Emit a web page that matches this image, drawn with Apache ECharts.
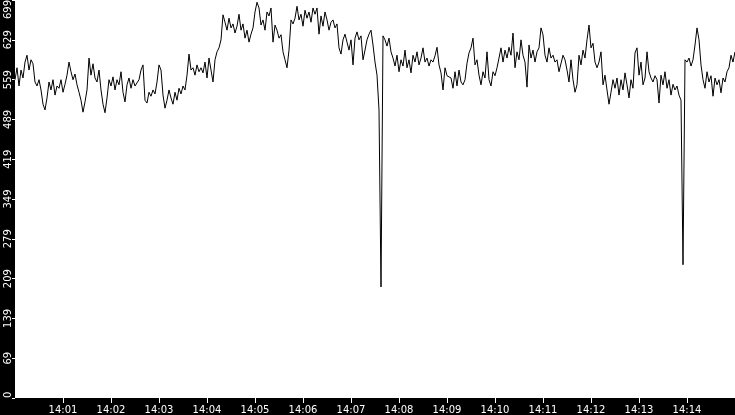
<!DOCTYPE html>
<html>
<head>
<meta charset="utf-8">
<script src="https://cdn.jsdelivr.net/npm/echarts@6/dist/echarts.min.js"></script>
<style>
html,body{margin:0;padding:0;background:#000;}
#chart{width:735px;height:415px;}
</style>
</head>
<body>
<div id="chart"></div>
<script>
// Time labels for x-axis ticks (one per minute, 14:00 .. 14:15)
const timeTickLabels = ['14:00','14:01','14:02','14:03','14:04','14:05','14:06','14:07','14:08','14:09','14:10','14:11','14:12','14:13','14:14','14:15'];
// Y tick labels
const valueTickLabels = ['0','69','139','209','279','349','419','489','559','629','699'];
// Sample spacing in seconds from 14:00:00
const sampleStepSeconds = 2.5;
// Series values
const values = [
559,580,548,576,562,590,602,576,594,587,555,548,559,541,516,506,527,555,541,559,
532,548,544,559,537,551,567,590,573,559,569,550,537,523,502,520,541,597,567,587,
562,555,576,541,516,501,527,559,548,564,541,559,550,573,537,520,550,562,544,559,
548,551,559,576,585,523,518,537,530,541,534,555,585,576,532,509,523,541,527,516,
537,523,544,534,548,541,567,604,576,580,567,585,573,580,571,590,562,597,576,555,
594,608,615,629,673,660,646,667,650,657,641,653,674,646,657,632,646,625,639,650,
678,695,685,655,664,646,678,671,685,625,655,646,632,638,608,594,580,611,664,657,
667,688,664,674,653,681,667,678,660,685,674,685,639,671,653,678,664,646,660,664,
650,657,615,604,629,639,625,611,629,585,632,643,629,636,594,611,629,639,646,620,
590,567,506,195,636,629,618,632,608,597,583,602,573,594,583,611,580,594,571,602,
590,608,585,597,615,590,597,583,594,590,601,616,585,571,541,580,566,569,562,544,
573,548,576,555,550,559,588,606,615,632,585,594,567,550,573,562,608,559,548,573,
566,580,597,615,590,611,597,616,602,641,580,608,594,629,602,590,546,620,597,611,
590,608,615,650,638,602,590,615,597,602,590,594,573,576,602,594,576,555,594,559,
537,550,602,585,611,597,629,655,615,623,590,580,590,608,550,567,541,516,537,559,
544,562,532,559,541,571,550,527,559,544,606,615,567,590,550,562,608,573,562,555,
566,559,518,567,550,573,544,559,532,551,541,548,532,523,234,594,590,597,583,594,
620,650,629,585,559,544,573,555,566,530,562,550,559,536,562,555,573,580,602,590,
608
];

const seriesData = values.map((v, i) => [i * sampleStepSeconds, v]);

const chart = echarts.init(document.getElementById('chart'), null, {renderer: 'canvas'});
const fontFamily = 'DejaVu Sans';
chart.setOption({
  animation: false,
  backgroundColor: '#000000',
  grid: {
    left: 15, right: 0, top: 0, bottom: 17,
    containLabel: false,
    outerBoundsMode: 'none',
    show: true, backgroundColor: '#ffffff', borderWidth: 0
  },
  xAxis: {
    type: 'value',
    min: 0, max: 900, interval: 60,
    axisLine: {show: false},
    axisTick: {show: true, length: 5, lineStyle: {color: '#ffffff', width: 1}},
    splitLine: {show: false},
    axisLabel: {
      color: '#ffffff', fontSize: 10, fontFamily: fontFamily, margin: 7,
      showMinLabel: false, showMaxLabel: false,
      formatter: v => timeTickLabels[Math.round(v / 60)]
    }
  },
  yAxis: {
    type: 'value',
    min: 0, max: 699, interval: 69.9,
    axisLine: {show: false},
    axisTick: {show: true, length: 3, lineStyle: {color: '#ffffff', width: 1}},
    splitLine: {show: false},
    axisLabel: {
      color: '#ffffff', fontSize: 10, fontFamily: fontFamily, rotate: 90, margin: 2,
      alignMaxLabel: 'right', alignMinLabel: 'left',
      formatter: v => valueTickLabels[Math.round(v / 69.9)]
    }
  },
  series: [{
    type: 'line',
    data: seriesData,
    showSymbol: false,
    symbol: 'none',
    sampling: null,
    lineStyle: {color: '#000000', width: 1},
    silent: true
  }]
});
</script>
</body>
</html>
